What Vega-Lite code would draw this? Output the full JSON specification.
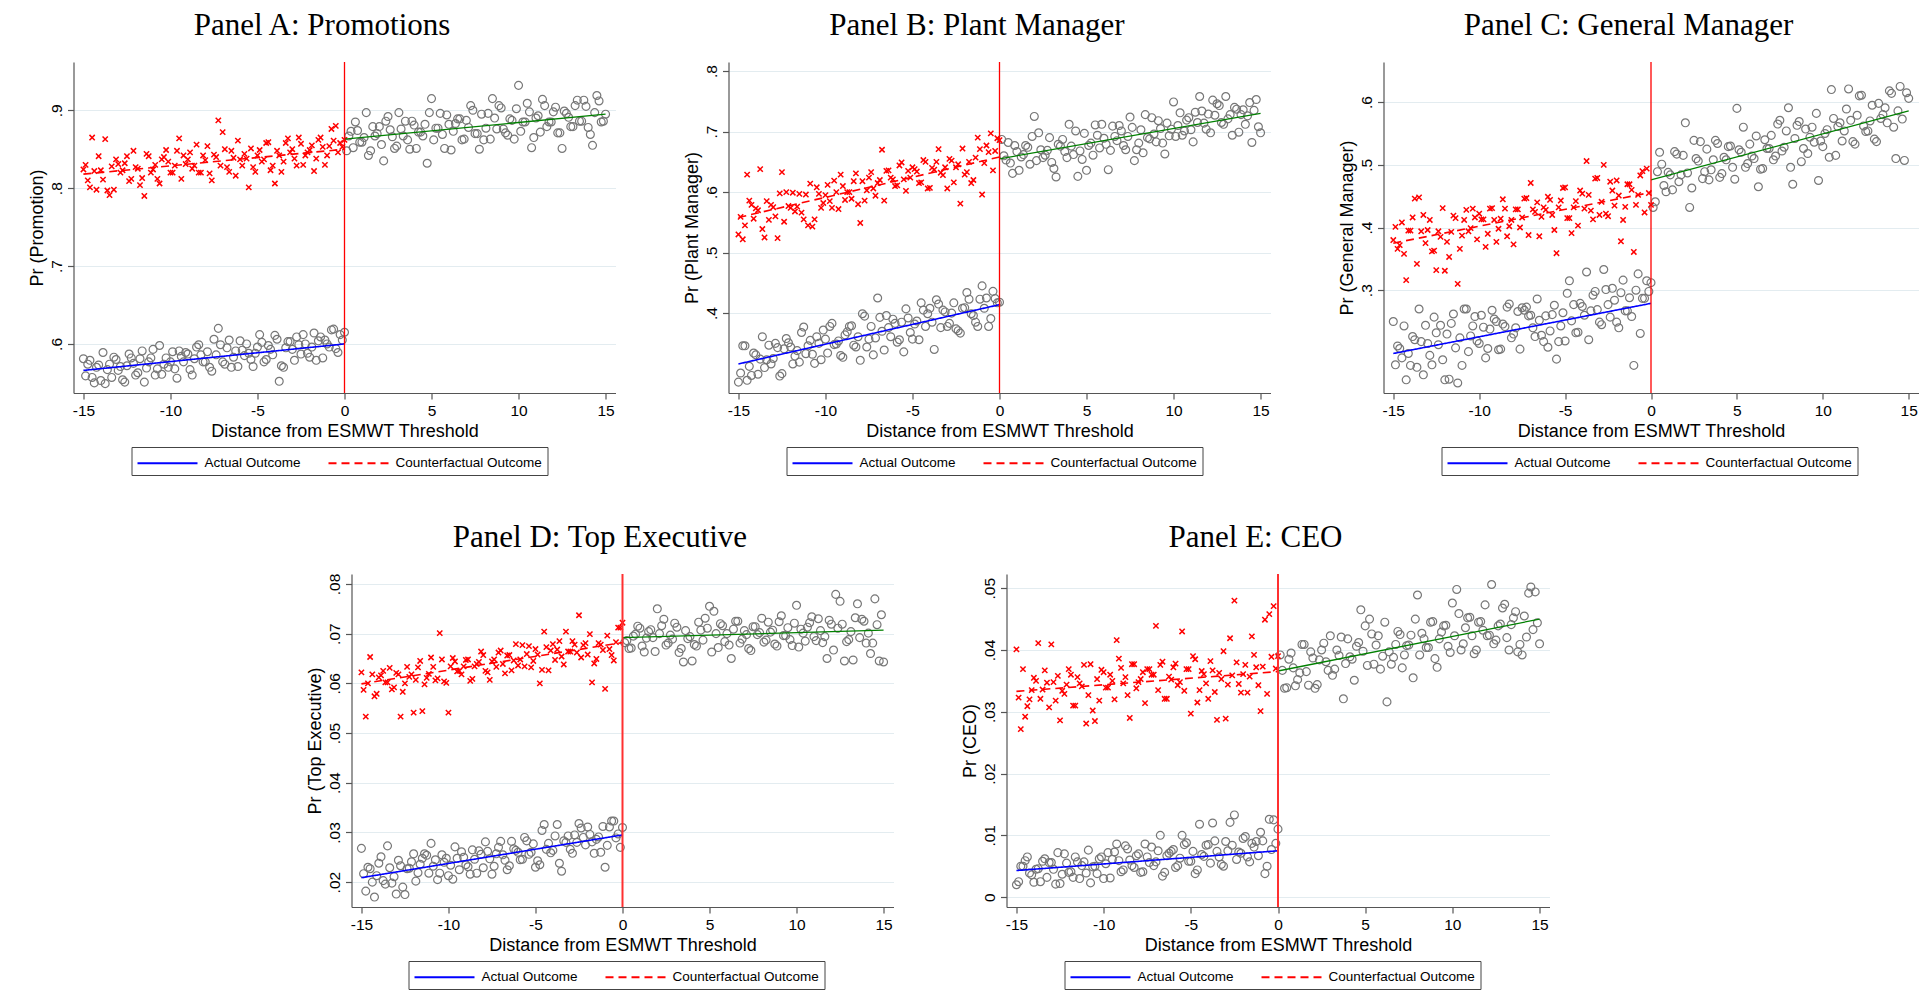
{
"$schema": "https://vega.github.io/schema/vega-lite/v6.json",
"padding": {"left": 27.5, "top": 10, "right": 0, "bottom": 0},
"background": "white",
"datasets": {
"A": [{"x":-15,"a":0.581,"c":0.824},{"x":-14.75,"a":0.574,"c":0.81},{"x":-14.5,"a":0.557,"c":0.865},{"x":-14.25,"a":0.57,"c":0.798},{"x":-14,"a":0.553,"c":0.823},{"x":-13.75,"a":0.549,"c":0.863},{"x":-13.5,"a":0.574,"c":0.791},{"x":-13.25,"a":0.583,"c":0.798},{"x":-13,"a":0.566,"c":0.831},{"x":-12.75,"a":0.554,"c":0.823},{"x":-12.5,"a":0.572,"c":0.841},{"x":-12.25,"a":0.582,"c":0.812},{"x":-12,"a":0.56,"c":0.827},{"x":-11.75,"a":0.581,"c":0.804},{"x":-11.5,"a":0.551,"c":0.79},{"x":-11.25,"a":0.577,"c":0.841},{"x":-11,"a":0.593,"c":0.824},{"x":-10.75,"a":0.568,"c":0.812},{"x":-10.5,"a":0.561,"c":0.837},{"x":-10.25,"a":0.582,"c":0.849},{"x":-10,"a":0.577,"c":0.82},{"x":-9.75,"a":0.568,"c":0.829},{"x":-9.5,"a":0.591,"c":0.864},{"x":-9.25,"a":0.577,"c":0.842},{"x":-9,"a":0.587,"c":0.837},{"x":-8.75,"a":0.56,"c":0.825},{"x":-8.5,"a":0.596,"c":0.856},{"x":-8.25,"a":0.586,"c":0.82},{"x":-8,"a":0.577,"c":0.836},{"x":-7.75,"a":0.57,"c":0.819},{"x":-7.5,"a":0.606,"c":0.843},{"x":-7.25,"a":0.62,"c":0.887},{"x":-7,"a":0.577,"c":0.872},{"x":-6.75,"a":0.595,"c":0.827},{"x":-6.5,"a":0.57,"c":0.848},{"x":-6.25,"a":0.591,"c":0.816},{"x":-6,"a":0.604,"c":0.837},{"x":-5.75,"a":0.585,"c":0.844},{"x":-5.5,"a":0.588,"c":0.801},{"x":-5.25,"a":0.571,"c":0.827},{"x":-5,"a":0.596,"c":0.842},{"x":-4.75,"a":0.602,"c":0.834},{"x":-4.5,"a":0.58,"c":0.858},{"x":-4.25,"a":0.593,"c":0.823},{"x":-4,"a":0.611,"c":0.806},{"x":-3.75,"a":0.552,"c":0.842},{"x":-3.5,"a":0.57,"c":0.834},{"x":-3.25,"a":0.603,"c":0.864},{"x":-3,"a":0.593,"c":0.85},{"x":-2.75,"a":0.609,"c":0.829},{"x":-2.5,"a":0.587,"c":0.857},{"x":-2.25,"a":0.6,"c":0.842},{"x":-2,"a":0.583,"c":0.849},{"x":-1.75,"a":0.614,"c":0.822},{"x":-1.5,"a":0.604,"c":0.862},{"x":-1.25,"a":0.582,"c":0.853},{"x":-1,"a":0.6,"c":0.842},{"x":-0.75,"a":0.618,"c":0.876},{"x":-0.5,"a":0.594,"c":0.88},{"x":-0.25,"a":0.612,"c":0.858},{"x":0,"a":0.615,"c":0.862},
{"x":-14.875,"a":0.559,"c":0.83},{"x":-14.625,"a":0.579,"c":0.801},{"x":-14.375,"a":0.55,"c":0.822},{"x":-14.125,"a":0.573,"c":0.841},{"x":-13.875,"a":0.589,"c":0.811},{"x":-13.625,"a":0.567,"c":0.797},{"x":-13.375,"a":0.557,"c":0.828},{"x":-13.125,"a":0.58,"c":0.837},{"x":-12.875,"a":0.571,"c":0.82},{"x":-12.625,"a":0.551,"c":0.832},{"x":-12.375,"a":0.587,"c":0.809},{"x":-12.125,"a":0.575,"c":0.848},{"x":-11.875,"a":0.563,"c":0.825},{"x":-11.625,"a":0.591,"c":0.813},{"x":-11.375,"a":0.569,"c":0.844},{"x":-11.125,"a":0.582,"c":0.82},{"x":-10.875,"a":0.56,"c":0.83},{"x":-10.625,"a":0.598,"c":0.806},{"x":-10.375,"a":0.574,"c":0.84},{"x":-10.125,"a":0.57,"c":0.834},{"x":-9.875,"a":0.59,"c":0.82},{"x":-9.625,"a":0.556,"c":0.848},{"x":-9.375,"a":0.584,"c":0.812},{"x":-9.125,"a":0.589,"c":0.831},{"x":-8.875,"a":0.567,"c":0.846},{"x":-8.625,"a":0.581,"c":0.829},{"x":-8.375,"a":0.599,"c":0.82},{"x":-8.125,"a":0.577,"c":0.842},{"x":-7.875,"a":0.59,"c":0.854},{"x":-7.625,"a":0.565,"c":0.81},{"x":-7.375,"a":0.586,"c":0.84},{"x":-7.125,"a":0.599,"c":0.829},{"x":-6.875,"a":0.574,"c":0.85},{"x":-6.625,"a":0.605,"c":0.821},{"x":-6.375,"a":0.583,"c":0.839},{"x":-6.125,"a":0.571,"c":0.861},{"x":-5.875,"a":0.592,"c":0.829},{"x":-5.625,"a":0.6,"c":0.838},{"x":-5.375,"a":0.58,"c":0.851},{"x":-5.125,"a":0.588,"c":0.821},{"x":-4.875,"a":0.612,"c":0.849},{"x":-4.625,"a":0.577,"c":0.837},{"x":-4.375,"a":0.598,"c":0.859},{"x":-4.125,"a":0.586,"c":0.829},{"x":-3.875,"a":0.606,"c":0.848},{"x":-3.625,"a":0.572,"c":0.821},{"x":-3.375,"a":0.595,"c":0.858},{"x":-3.125,"a":0.603,"c":0.846},{"x":-2.875,"a":0.579,"c":0.838},{"x":-2.625,"a":0.599,"c":0.865},{"x":-2.375,"a":0.612,"c":0.83},{"x":-2.125,"a":0.588,"c":0.846},{"x":-1.875,"a":0.596,"c":0.855},{"x":-1.625,"a":0.579,"c":0.838},{"x":-1.375,"a":0.609,"c":0.865},{"x":-1.125,"a":0.605,"c":0.83},{"x":-0.875,"a":0.596,"c":0.854},{"x":-0.625,"a":0.619,"c":0.861},{"x":-0.375,"a":0.589,"c":0.846},{"x":-0.125,"a":0.605,"c":0.853},
{"x":0.25,"a":0.867},{"x":0.5,"a":0.852},{"x":0.75,"a":0.874},{"x":1,"a":0.859},{"x":1.25,"a":0.897},{"x":1.5,"a":0.848},{"x":1.75,"a":0.867},{"x":2,"a":0.879},{"x":2.25,"a":0.835},{"x":2.5,"a":0.892},{"x":2.75,"a":0.866},{"x":3,"a":0.854},{"x":3.25,"a":0.876},{"x":3.5,"a":0.886},{"x":3.75,"a":0.85},{"x":4,"a":0.881},{"x":4.25,"a":0.872},{"x":4.5,"a":0.867},{"x":4.75,"a":0.832},{"x":5,"a":0.915},{"x":5.25,"a":0.877},{"x":5.5,"a":0.896},{"x":5.75,"a":0.851},{"x":6,"a":0.882},{"x":6.25,"a":0.873},{"x":6.5,"a":0.889},{"x":6.75,"a":0.862},{"x":7,"a":0.887},{"x":7.25,"a":0.906},{"x":7.5,"a":0.87},{"x":7.75,"a":0.85},{"x":8,"a":0.862},{"x":8.25,"a":0.896},{"x":8.5,"a":0.915},{"x":8.75,"a":0.876},{"x":9,"a":0.903},{"x":9.25,"a":0.871},{"x":9.5,"a":0.889},{"x":9.75,"a":0.863},{"x":10,"a":0.932},{"x":10.25,"a":0.885},{"x":10.5,"a":0.909},{"x":10.75,"a":0.852},{"x":11,"a":0.89},{"x":11.25,"a":0.872},{"x":11.5,"a":0.906},{"x":11.75,"a":0.885},{"x":12,"a":0.898},{"x":12.25,"a":0.871},{"x":12.5,"a":0.851},{"x":12.75,"a":0.896},{"x":13,"a":0.879},{"x":13.25,"a":0.906},{"x":13.5,"a":0.886},{"x":13.75,"a":0.913},{"x":14,"a":0.878},{"x":14.25,"a":0.855},{"x":14.5,"a":0.919},{"x":14.75,"a":0.885},{"x":15,"a":0.895},
{"x":0.125,"a":0.848},{"x":0.375,"a":0.873},{"x":0.625,"a":0.885},{"x":0.875,"a":0.859},{"x":1.125,"a":0.865},{"x":1.375,"a":0.842},{"x":1.625,"a":0.879},{"x":1.875,"a":0.87},{"x":2.125,"a":0.856},{"x":2.375,"a":0.886},{"x":2.625,"a":0.875},{"x":2.875,"a":0.851},{"x":3.125,"a":0.897},{"x":3.375,"a":0.867},{"x":3.625,"a":0.862},{"x":3.875,"a":0.886},{"x":4.125,"a":0.851},{"x":4.375,"a":0.872},{"x":4.625,"a":0.882},{"x":4.875,"a":0.897},{"x":5.125,"a":0.862},{"x":5.375,"a":0.877},{"x":5.625,"a":0.869},{"x":5.875,"a":0.894},{"x":6.125,"a":0.849},{"x":6.375,"a":0.883},{"x":6.625,"a":0.889},{"x":6.875,"a":0.863},{"x":7.125,"a":0.878},{"x":7.375,"a":0.9},{"x":7.625,"a":0.87},{"x":7.875,"a":0.895},{"x":8.125,"a":0.877},{"x":8.375,"a":0.863},{"x":8.625,"a":0.89},{"x":8.875,"a":0.906},{"x":9.125,"a":0.876},{"x":9.375,"a":0.868},{"x":9.625,"a":0.887},{"x":9.875,"a":0.902},{"x":10.125,"a":0.873},{"x":10.375,"a":0.885},{"x":10.625,"a":0.898},{"x":10.875,"a":0.865},{"x":11.125,"a":0.893},{"x":11.375,"a":0.914},{"x":11.625,"a":0.879},{"x":11.875,"a":0.885},{"x":12.125,"a":0.904},{"x":12.375,"a":0.871},{"x":12.625,"a":0.899},{"x":12.875,"a":0.891},{"x":13.125,"a":0.879},{"x":13.375,"a":0.913},{"x":13.625,"a":0.886},{"x":13.875,"a":0.905},{"x":14.125,"a":0.869},{"x":14.375,"a":0.897},{"x":14.625,"a":0.912},{"x":14.875,"a":0.886}],
"B": [{"x":-15,"a":0.286,"c":0.53},{"x":-14.75,"a":0.346,"c":0.522},{"x":-14.5,"a":0.289,"c":0.629},{"x":-14.25,"a":0.297,"c":0.579},{"x":-14,"a":0.331,"c":0.573},{"x":-13.75,"a":0.324,"c":0.638},{"x":-13.5,"a":0.31,"c":0.525},{"x":-13.25,"a":0.347,"c":0.554},{"x":-13,"a":0.325,"c":0.575},{"x":-12.75,"a":0.343,"c":0.524},{"x":-12.5,"a":0.3,"c":0.633},{"x":-12.25,"a":0.358,"c":0.6},{"x":-12,"a":0.344,"c":0.574},{"x":-11.75,"a":0.329,"c":0.568},{"x":-11.5,"a":0.319,"c":0.597},{"x":-11.25,"a":0.377,"c":0.555},{"x":-11,"a":0.346,"c":0.545},{"x":-10.75,"a":0.332,"c":0.543},{"x":-10.5,"a":0.361,"c":0.608},{"x":-10.25,"a":0.323,"c":0.574},{"x":-10,"a":0.357,"c":0.595},{"x":-9.75,"a":0.378,"c":0.585},{"x":-9.5,"a":0.348,"c":0.619},{"x":-9.25,"a":0.354,"c":0.572},{"x":-9,"a":0.327,"c":0.61},{"x":-8.75,"a":0.369,"c":0.6},{"x":-8.5,"a":0.379,"c":0.589},{"x":-8.25,"a":0.344,"c":0.631},{"x":-8,"a":0.322,"c":0.549},{"x":-7.75,"a":0.395,"c":0.586},{"x":-7.5,"a":0.357,"c":0.624},{"x":-7.25,"a":0.331,"c":0.606},{"x":-7,"a":0.425,"c":0.615},{"x":-6.75,"a":0.37,"c":0.67},{"x":-6.5,"a":0.396,"c":0.635},{"x":-6.25,"a":0.361,"c":0.624},{"x":-6,"a":0.383,"c":0.61},{"x":-5.75,"a":0.356,"c":0.644},{"x":-5.5,"a":0.336,"c":0.621},{"x":-5.25,"a":0.392,"c":0.635},{"x":-5,"a":0.357,"c":0.641},{"x":-4.75,"a":0.387,"c":0.634},{"x":-4.5,"a":0.417,"c":0.616},{"x":-4.25,"a":0.378,"c":0.65},{"x":-4,"a":0.408,"c":0.607},{"x":-3.75,"a":0.34,"c":0.637},{"x":-3.5,"a":0.415,"c":0.671},{"x":-3.25,"a":0.405,"c":0.628},{"x":-3,"a":0.378,"c":0.606},{"x":-2.75,"a":0.4,"c":0.652},{"x":-2.5,"a":0.374,"c":0.641},{"x":-2.25,"a":0.367,"c":0.581},{"x":-2,"a":0.409,"c":0.629},{"x":-1.75,"a":0.423,"c":0.65},{"x":-1.5,"a":0.396,"c":0.62},{"x":-1.25,"a":0.378,"c":0.69},{"x":-1,"a":0.445,"c":0.596},{"x":-0.75,"a":0.425,"c":0.677},{"x":-0.5,"a":0.391,"c":0.697},{"x":-0.25,"a":0.424,"c":0.668},{"x":0,"a":0.418,"c":0.686},
{"x":-14.875,"a":0.301,"c":0.559},{"x":-14.625,"a":0.346,"c":0.545},{"x":-14.375,"a":0.312,"c":0.586},{"x":-14.125,"a":0.334,"c":0.556},{"x":-13.875,"a":0.299,"c":0.57},{"x":-13.625,"a":0.361,"c":0.539},{"x":-13.375,"a":0.323,"c":0.585},{"x":-13.125,"a":0.316,"c":0.579},{"x":-12.875,"a":0.35,"c":0.56},{"x":-12.625,"a":0.296,"c":0.598},{"x":-12.375,"a":0.341,"c":0.551},{"x":-12.125,"a":0.351,"c":0.577},{"x":-11.875,"a":0.316,"c":0.599},{"x":-11.625,"a":0.338,"c":0.576},{"x":-11.375,"a":0.368,"c":0.566},{"x":-11.125,"a":0.333,"c":0.596},{"x":-10.875,"a":0.355,"c":0.614},{"x":-10.625,"a":0.317,"c":0.555},{"x":-10.375,"a":0.35,"c":0.597},{"x":-10.125,"a":0.372,"c":0.582},{"x":-9.875,"a":0.334,"c":0.612},{"x":-9.625,"a":0.383,"c":0.574},{"x":-9.375,"a":0.349,"c":0.6},{"x":-9.125,"a":0.33,"c":0.629},{"x":-8.875,"a":0.364,"c":0.587},{"x":-8.625,"a":0.378,"c":0.6},{"x":-8.375,"a":0.347,"c":0.618},{"x":-8.125,"a":0.361,"c":0.58},{"x":-7.875,"a":0.399,"c":0.618},{"x":-7.625,"a":0.344,"c":0.603},{"x":-7.375,"a":0.378,"c":0.633},{"x":-7.125,"a":0.359,"c":0.594},{"x":-6.875,"a":0.393,"c":0.62},{"x":-6.625,"a":0.339,"c":0.586},{"x":-6.375,"a":0.376,"c":0.636},{"x":-6.125,"a":0.39,"c":0.621},{"x":-5.875,"a":0.352,"c":0.611},{"x":-5.625,"a":0.385,"c":0.649},{"x":-5.375,"a":0.407,"c":0.602},{"x":-5.125,"a":0.368,"c":0.624},{"x":-4.875,"a":0.382,"c":0.638},{"x":-4.625,"a":0.356,"c":0.615},{"x":-4.375,"a":0.405,"c":0.653},{"x":-4.125,"a":0.399,"c":0.606},{"x":-3.875,"a":0.385,"c":0.64},{"x":-3.625,"a":0.422,"c":0.65},{"x":-3.375,"a":0.376,"c":0.632},{"x":-3.125,"a":0.402,"c":0.641},{"x":-2.875,"a":0.383,"c":0.655},{"x":-2.625,"a":0.417,"c":0.616},{"x":-2.375,"a":0.371,"c":0.646},{"x":-2.125,"a":0.408,"c":0.672},{"x":-1.875,"a":0.434,"c":0.633},{"x":-1.625,"a":0.399,"c":0.615},{"x":-1.375,"a":0.385,"c":0.657},{"x":-1.125,"a":0.423,"c":0.671},{"x":-0.875,"a":0.408,"c":0.648},{"x":-0.625,"a":0.378,"c":0.666},{"x":-0.375,"a":0.436,"c":0.636},{"x":-0.125,"a":0.417,"c":0.689},
{"x":0.25,"a":0.66},{"x":0.5,"a":0.682},{"x":0.75,"a":0.631},{"x":1,"a":0.667},{"x":1.25,"a":0.658},{"x":1.5,"a":0.677},{"x":1.75,"a":0.646},{"x":2,"a":0.725},{"x":2.25,"a":0.698},{"x":2.5,"a":0.657},{"x":2.75,"a":0.669},{"x":3,"a":0.649},{"x":3.25,"a":0.625},{"x":3.5,"a":0.676},{"x":3.75,"a":0.667},{"x":4,"a":0.712},{"x":4.25,"a":0.662},{"x":4.5,"a":0.626},{"x":4.75,"a":0.654},{"x":5,"a":0.636},{"x":5.25,"a":0.681},{"x":5.5,"a":0.711},{"x":5.75,"a":0.673},{"x":6,"a":0.689},{"x":6.25,"a":0.637},{"x":6.5,"a":0.709},{"x":6.75,"a":0.685},{"x":7,"a":0.701},{"x":7.25,"a":0.67},{"x":7.5,"a":0.724},{"x":7.75,"a":0.652},{"x":8,"a":0.681},{"x":8.25,"a":0.665},{"x":8.5,"a":0.69},{"x":8.75,"a":0.723},{"x":9,"a":0.683},{"x":9.25,"a":0.705},{"x":9.5,"a":0.663},{"x":9.75,"a":0.693},{"x":10,"a":0.749},{"x":10.25,"a":0.71},{"x":10.5,"a":0.694},{"x":10.75,"a":0.719},{"x":11,"a":0.703},{"x":11.25,"a":0.732},{"x":11.5,"a":0.758},{"x":11.75,"a":0.714},{"x":12,"a":0.729},{"x":12.25,"a":0.752},{"x":12.5,"a":0.746},{"x":12.75,"a":0.715},{"x":13,"a":0.758},{"x":13.25,"a":0.728},{"x":13.5,"a":0.74},{"x":13.75,"a":0.699},{"x":14,"a":0.736},{"x":14.25,"a":0.726},{"x":14.5,"a":0.682},{"x":14.75,"a":0.753},{"x":15,"a":0.698},
{"x":0.125,"a":0.687},{"x":0.375,"a":0.653},{"x":0.625,"a":0.648},{"x":0.875,"a":0.677},{"x":1.125,"a":0.636},{"x":1.375,"a":0.662},{"x":1.625,"a":0.674},{"x":1.875,"a":0.692},{"x":2.125,"a":0.652},{"x":2.375,"a":0.67},{"x":2.625,"a":0.661},{"x":2.875,"a":0.69},{"x":3.125,"a":0.639},{"x":3.375,"a":0.679},{"x":3.625,"a":0.687},{"x":3.875,"a":0.657},{"x":4.125,"a":0.676},{"x":4.375,"a":0.701},{"x":4.625,"a":0.668},{"x":4.875,"a":0.697},{"x":5.125,"a":0.677},{"x":5.375,"a":0.661},{"x":5.625,"a":0.694},{"x":5.875,"a":0.712},{"x":6.125,"a":0.679},{"x":6.375,"a":0.669},{"x":6.625,"a":0.692},{"x":6.875,"a":0.71},{"x":7.125,"a":0.677},{"x":7.375,"a":0.692},{"x":7.625,"a":0.707},{"x":7.875,"a":0.67},{"x":8.125,"a":0.703},{"x":8.375,"a":0.728},{"x":8.625,"a":0.688},{"x":8.875,"a":0.696},{"x":9.125,"a":0.718},{"x":9.375,"a":0.681},{"x":9.625,"a":0.714},{"x":9.875,"a":0.704},{"x":10.125,"a":0.692},{"x":10.375,"a":0.731},{"x":10.625,"a":0.701},{"x":10.875,"a":0.723},{"x":11.125,"a":0.683},{"x":11.375,"a":0.715},{"x":11.625,"a":0.734},{"x":11.875,"a":0.704},{"x":12.125,"a":0.698},{"x":12.375,"a":0.727},{"x":12.625,"a":0.743},{"x":12.875,"a":0.712},{"x":13.125,"a":0.721},{"x":13.375,"a":0.694},{"x":13.625,"a":0.737},{"x":13.875,"a":0.728},{"x":14.125,"a":0.712},{"x":14.375,"a":0.748},{"x":14.625,"a":0.735},{"x":14.875,"a":0.708}],
"C": [{"x":-15,"a":0.25,"c":0.38},{"x":-14.75,"a":0.211,"c":0.366},{"x":-14.5,"a":0.192,"c":0.408},{"x":-14.25,"a":0.157,"c":0.316},{"x":-14,"a":0.18,"c":0.395},{"x":-13.75,"a":0.221,"c":0.446},{"x":-13.5,"a":0.27,"c":0.448},{"x":-13.25,"a":0.165,"c":0.42},{"x":-13,"a":0.215,"c":0.396},{"x":-12.75,"a":0.181,"c":0.362},{"x":-12.5,"a":0.232,"c":0.332},{"x":-12.25,"a":0.244,"c":0.385},{"x":-12,"a":0.157,"c":0.331},{"x":-11.75,"a":0.158,"c":0.353},{"x":-11.5,"a":0.262,"c":0.419},{"x":-11.25,"a":0.152,"c":0.31},{"x":-11,"a":0.18,"c":0.387},{"x":-10.75,"a":0.27,"c":0.428},{"x":-10.5,"a":0.227,"c":0.399},{"x":-10.25,"a":0.258,"c":0.416},{"x":-10,"a":0.215,"c":0.422},{"x":-9.75,"a":0.241,"c":0.413},{"x":-9.5,"a":0.207,"c":0.39},{"x":-9.25,"a":0.268,"c":0.431},{"x":-9,"a":0.25,"c":0.377},{"x":-8.75,"a":0.206,"c":0.414},{"x":-8.5,"a":0.242,"c":0.43},{"x":-8.25,"a":0.278,"c":0.402},{"x":-8,"a":0.23,"c":0.373},{"x":-7.75,"a":0.266,"c":0.429},{"x":-7.5,"a":0.272,"c":0.416},{"x":-7.25,"a":0.273,"c":0.447},{"x":-7,"a":0.26,"c":0.471},{"x":-6.75,"a":0.226,"c":0.425},{"x":-6.5,"a":0.252,"c":0.386},{"x":-6.25,"a":0.218,"c":0.432},{"x":-6,"a":0.209,"c":0.449},{"x":-5.75,"a":0.261,"c":0.42},{"x":-5.5,"a":0.19,"c":0.359},{"x":-5.25,"a":0.243,"c":0.443},{"x":-5,"a":0.219,"c":0.464},{"x":-4.75,"a":0.315,"c":0.415},{"x":-4.5,"a":0.277,"c":0.432},{"x":-4.25,"a":0.233,"c":0.403},{"x":-4,"a":0.274,"c":0.454},{"x":-3.75,"a":0.329,"c":0.506},{"x":-3.5,"a":0.267,"c":0.427},{"x":-3.25,"a":0.298,"c":0.478},{"x":-3,"a":0.249,"c":0.42},{"x":-2.75,"a":0.333,"c":0.5},{"x":-2.5,"a":0.277,"c":0.418},{"x":-2.25,"a":0.303,"c":0.459},{"x":-2,"a":0.249,"c":0.475},{"x":-1.75,"a":0.296,"c":0.378},{"x":-1.5,"a":0.267,"c":0.433},{"x":-1.25,"a":0.288,"c":0.469},{"x":-1,"a":0.18,"c":0.361},{"x":-0.75,"a":0.326,"c":0.452},{"x":-0.5,"a":0.287,"c":0.49},{"x":-0.25,"a":0.315,"c":0.494},{"x":0,"a":0.312,"c":0.436},
{"x":-14.875,"a":0.181,"c":0.401},{"x":-14.625,"a":0.207,"c":0.372},{"x":-14.375,"a":0.243,"c":0.358},{"x":-14.125,"a":0.199,"c":0.395},{"x":-13.875,"a":0.226,"c":0.416},{"x":-13.625,"a":0.177,"c":0.342},{"x":-13.375,"a":0.218,"c":0.394},{"x":-13.125,"a":0.244,"c":0.375},{"x":-12.875,"a":0.196,"c":0.412},{"x":-12.625,"a":0.257,"c":0.363},{"x":-12.375,"a":0.213,"c":0.394},{"x":-12.125,"a":0.189,"c":0.431},{"x":-11.875,"a":0.23,"c":0.377},{"x":-11.625,"a":0.247,"c":0.393},{"x":-11.375,"a":0.208,"c":0.415},{"x":-11.125,"a":0.224,"c":0.366},{"x":-10.875,"a":0.27,"c":0.412},{"x":-10.625,"a":0.202,"c":0.394},{"x":-10.375,"a":0.243,"c":0.43},{"x":-10.125,"a":0.219,"c":0.381},{"x":-9.875,"a":0.26,"c":0.413},{"x":-9.625,"a":0.192,"c":0.369},{"x":-9.375,"a":0.238,"c":0.43},{"x":-9.125,"a":0.254,"c":0.412},{"x":-8.875,"a":0.205,"c":0.398},{"x":-8.625,"a":0.246,"c":0.445},{"x":-8.375,"a":0.273,"c":0.386},{"x":-8.125,"a":0.224,"c":0.412},{"x":-7.875,"a":0.24,"c":0.429},{"x":-7.625,"a":0.206,"c":0.4},{"x":-7.375,"a":0.268,"c":0.446},{"x":-7.125,"a":0.259,"c":0.388},{"x":-6.875,"a":0.24,"c":0.429},{"x":-6.625,"a":0.286,"c":0.44},{"x":-6.375,"a":0.228,"c":0.417},{"x":-6.125,"a":0.259,"c":0.428},{"x":-5.875,"a":0.235,"c":0.444},{"x":-5.625,"a":0.276,"c":0.396},{"x":-5.375,"a":0.218,"c":0.432},{"x":-5.125,"a":0.264,"c":0.463},{"x":-4.875,"a":0.295,"c":0.415},{"x":-4.625,"a":0.251,"c":0.391},{"x":-4.375,"a":0.232,"c":0.442},{"x":-4.125,"a":0.279,"c":0.459},{"x":-3.875,"a":0.26,"c":0.43},{"x":-3.625,"a":0.221,"c":0.452},{"x":-3.375,"a":0.292,"c":0.413},{"x":-3.125,"a":0.269,"c":0.479},{"x":-2.875,"a":0.245,"c":0.441},{"x":-2.625,"a":0.301,"c":0.422},{"x":-2.375,"a":0.257,"c":0.473},{"x":-2.125,"a":0.284,"c":0.435},{"x":-1.875,"a":0.24,"c":0.451},{"x":-1.625,"a":0.316,"c":0.412},{"x":-1.375,"a":0.267,"c":0.469},{"x":-1.125,"a":0.258,"c":0.46},{"x":-0.875,"a":0.3,"c":0.436},{"x":-0.625,"a":0.231,"c":0.483},{"x":-0.375,"a":0.287,"c":0.424},{"x":-0.125,"a":0.298,"c":0.455},
{"x":0.25,"a":0.441},{"x":0.5,"a":0.52},{"x":0.75,"a":0.467},{"x":1,"a":0.488},{"x":1.25,"a":0.46},{"x":1.5,"a":0.517},{"x":1.75,"a":0.484},{"x":2,"a":0.567},{"x":2.25,"a":0.432},{"x":2.5,"a":0.539},{"x":2.75,"a":0.506},{"x":3,"a":0.478},{"x":3.25,"a":0.525},{"x":3.5,"a":0.492},{"x":3.75,"a":0.539},{"x":4,"a":0.48},{"x":4.25,"a":0.512},{"x":4.5,"a":0.529},{"x":4.75,"a":0.496},{"x":5,"a":0.59},{"x":5.25,"a":0.52},{"x":5.5,"a":0.496},{"x":5.75,"a":0.533},{"x":6,"a":0.51},{"x":6.25,"a":0.465},{"x":6.5,"a":0.494},{"x":6.75,"a":0.526},{"x":7,"a":0.547},{"x":7.25,"a":0.514},{"x":7.5,"a":0.571},{"x":7.75,"a":0.528},{"x":8,"a":0.591},{"x":8.25,"a":0.469},{"x":8.5,"a":0.563},{"x":8.75,"a":0.505},{"x":9,"a":0.557},{"x":9.25,"a":0.544},{"x":9.5,"a":0.536},{"x":9.75,"a":0.475},{"x":10,"a":0.529},{"x":10.25,"a":0.556},{"x":10.5,"a":0.62},{"x":10.75,"a":0.515},{"x":11,"a":0.567},{"x":11.25,"a":0.554},{"x":11.5,"a":0.621},{"x":11.75,"a":0.537},{"x":12,"a":0.579},{"x":12.25,"a":0.611},{"x":12.5,"a":0.553},{"x":12.75,"a":0.57},{"x":13,"a":0.541},{"x":13.25,"a":0.598},{"x":13.5,"a":0.58},{"x":13.75,"a":0.567},{"x":14,"a":0.614},{"x":14.25,"a":0.51},{"x":14.5,"a":0.625},{"x":14.75,"a":0.507},{"x":15,"a":0.606},
{"x":0.125,"a":0.432},{"x":0.375,"a":0.489},{"x":0.625,"a":0.501},{"x":0.875,"a":0.457},{"x":1.125,"a":0.484},{"x":1.375,"a":0.521},{"x":1.625,"a":0.473},{"x":1.875,"a":0.515},{"x":2.125,"a":0.487},{"x":2.375,"a":0.463},{"x":2.625,"a":0.51},{"x":2.875,"a":0.537},{"x":3.125,"a":0.489},{"x":3.375,"a":0.476},{"x":3.625,"a":0.508},{"x":3.875,"a":0.534},{"x":4.125,"a":0.486},{"x":4.375,"a":0.508},{"x":4.625,"a":0.53},{"x":4.875,"a":0.477},{"x":5.125,"a":0.524},{"x":5.375,"a":0.56},{"x":5.625,"a":0.502},{"x":5.875,"a":0.514},{"x":6.125,"a":0.546},{"x":6.375,"a":0.493},{"x":6.625,"a":0.54},{"x":6.875,"a":0.526},{"x":7.125,"a":0.508},{"x":7.375,"a":0.565},{"x":7.625,"a":0.522},{"x":7.875,"a":0.554},{"x":8.125,"a":0.496},{"x":8.375,"a":0.542},{"x":8.625,"a":0.569},{"x":8.875,"a":0.526},{"x":9.125,"a":0.518},{"x":9.375,"a":0.56},{"x":9.625,"a":0.582},{"x":9.875,"a":0.538},{"x":10.125,"a":0.55},{"x":10.375,"a":0.512},{"x":10.625,"a":0.574},{"x":10.875,"a":0.561},{"x":11.125,"a":0.538},{"x":11.375,"a":0.589},{"x":11.625,"a":0.571},{"x":11.875,"a":0.533},{"x":12.125,"a":0.61},{"x":12.375,"a":0.562},{"x":12.625,"a":0.554},{"x":12.875,"a":0.595},{"x":13.125,"a":0.537},{"x":13.375,"a":0.574},{"x":13.625,"a":0.591},{"x":13.875,"a":0.618},{"x":14.125,"a":0.56},{"x":14.375,"a":0.586},{"x":14.625,"a":0.573},{"x":14.875,"a":0.615}],
"D": [{"x":-15,"a":0.0268,"c":0.0622},{"x":-14.75,"a":0.0182,"c":0.0533},{"x":-14.5,"a":0.0227,"c":0.0653},{"x":-14.25,"a":0.017,"c":0.0574},{"x":-14,"a":0.0238,"c":0.0612},{"x":-13.75,"a":0.0203,"c":0.0625},{"x":-13.5,"a":0.0273,"c":0.0602},{"x":-13.25,"a":0.0198,"c":0.0588},{"x":-13,"a":0.0176,"c":0.0621},{"x":-12.75,"a":0.0233,"c":0.0533},{"x":-12.5,"a":0.0175,"c":0.06},{"x":-12.25,"a":0.0228,"c":0.0613},{"x":-12,"a":0.0257,"c":0.0541},{"x":-11.75,"a":0.0219,"c":0.0632},{"x":-11.5,"a":0.0248,"c":0.0544},{"x":-11.25,"a":0.0254,"c":0.0611},{"x":-11,"a":0.0278,"c":0.0652},{"x":-10.75,"a":0.0245,"c":0.0606},{"x":-10.5,"a":0.0218,"c":0.0701},{"x":-10.25,"a":0.024,"c":0.0604},{"x":-10,"a":0.0213,"c":0.0541},{"x":-9.75,"a":0.0206,"c":0.0651},{"x":-9.5,"a":0.0248,"c":0.0624},{"x":-9.25,"a":0.0261,"c":0.0618},{"x":-9,"a":0.0235,"c":0.0647},{"x":-8.75,"a":0.0216,"c":0.0605},{"x":-8.5,"a":0.0246,"c":0.0634},{"x":-8.25,"a":0.0263,"c":0.0643},{"x":-8,"a":0.0229,"c":0.0657},{"x":-7.75,"a":0.0262,"c":0.0622},{"x":-7.5,"a":0.0216,"c":0.0644},{"x":-7.25,"a":0.0257,"c":0.0633},{"x":-7,"a":0.0282,"c":0.0666},{"x":-6.75,"a":0.0244,"c":0.062},{"x":-6.5,"a":0.0233,"c":0.0657},{"x":-6.25,"a":0.0267,"c":0.0646},{"x":-6,"a":0.026,"c":0.0636},{"x":-5.75,"a":0.0246,"c":0.0677},{"x":-5.5,"a":0.0283,"c":0.0659},{"x":-5.25,"a":0.026,"c":0.0632},{"x":-5,"a":0.023,"c":0.0669},{"x":-4.75,"a":0.0235,"c":0.06},{"x":-4.5,"a":0.0316,"c":0.0704},{"x":-4.25,"a":0.0278,"c":0.0626},{"x":-4,"a":0.0264,"c":0.0679},{"x":-3.75,"a":0.0316,"c":0.0668},{"x":-3.5,"a":0.0222,"c":0.0654},{"x":-3.25,"a":0.028,"c":0.0704},{"x":-3,"a":0.0266,"c":0.0664},{"x":-2.75,"a":0.0295,"c":0.0678},{"x":-2.5,"a":0.0318,"c":0.0737},{"x":-2.25,"a":0.029,"c":0.0677},{"x":-2,"a":0.0311,"c":0.0658},{"x":-1.75,"a":0.0281,"c":0.0602},{"x":-1.5,"a":0.0286,"c":0.0649},{"x":-1.25,"a":0.026,"c":0.0678},{"x":-1,"a":0.023,"c":0.0589},{"x":-0.75,"a":0.0311,"c":0.0669},{"x":-0.5,"a":0.0323,"c":0.0646},{"x":-0.25,"a":0.0297,"c":0.0712},{"x":0,"a":0.031,"c":0.0722},
{"x":-14.875,"a":0.0217,"c":0.0587},{"x":-14.625,"a":0.023,"c":0.06},{"x":-14.375,"a":0.02,"c":0.0618},{"x":-14.125,"a":0.0213,"c":0.0579},{"x":-13.875,"a":0.0251,"c":0.0616},{"x":-13.625,"a":0.0196,"c":0.0602},{"x":-13.375,"a":0.0229,"c":0.0631},{"x":-13.125,"a":0.0211,"c":0.0592},{"x":-12.875,"a":0.0244,"c":0.0618},{"x":-12.625,"a":0.019,"c":0.0583},{"x":-12.375,"a":0.0227,"c":0.0633},{"x":-12.125,"a":0.0241,"c":0.0618},{"x":-11.875,"a":0.0202,"c":0.0607},{"x":-11.625,"a":0.0236,"c":0.0645},{"x":-11.375,"a":0.0257,"c":0.0598},{"x":-11.125,"a":0.0218,"c":0.0619},{"x":-10.875,"a":0.0232,"c":0.0633},{"x":-10.625,"a":0.0205,"c":0.061},{"x":-10.375,"a":0.0255,"c":0.0648},{"x":-10.125,"a":0.0248,"c":0.0601},{"x":-9.875,"a":0.0234,"c":0.0634},{"x":-9.625,"a":0.0271,"c":0.0644},{"x":-9.375,"a":0.0225,"c":0.0625},{"x":-9.125,"a":0.025,"c":0.0634},{"x":-8.875,"a":0.0231,"c":0.0648},{"x":-8.625,"a":0.0265,"c":0.0609},{"x":-8.375,"a":0.0218,"c":0.0639},{"x":-8.125,"a":0.0256,"c":0.0664},{"x":-7.875,"a":0.0281,"c":0.0625},{"x":-7.625,"a":0.0247,"c":0.0607},{"x":-7.375,"a":0.0232,"c":0.0648},{"x":-7.125,"a":0.027,"c":0.0662},{"x":-6.875,"a":0.0255,"c":0.0639},{"x":-6.625,"a":0.0225,"c":0.0656},{"x":-6.375,"a":0.0282,"c":0.0626},{"x":-6.125,"a":0.0264,"c":0.0679},{"x":-5.875,"a":0.0245,"c":0.0648},{"x":-5.625,"a":0.029,"c":0.0634},{"x":-5.375,"a":0.0256,"c":0.0675},{"x":-5.125,"a":0.0277,"c":0.0645},{"x":-4.875,"a":0.0243,"c":0.0658},{"x":-4.625,"a":0.0304,"c":0.0627},{"x":-4.375,"a":0.0266,"c":0.0673},{"x":-4.125,"a":0.0259,"c":0.0666},{"x":-3.875,"a":0.0293,"c":0.0647},{"x":-3.625,"a":0.0238,"c":0.0685},{"x":-3.375,"a":0.0283,"c":0.0638},{"x":-3.125,"a":0.0293,"c":0.0664},{"x":-2.875,"a":0.0258,"c":0.0685},{"x":-2.625,"a":0.028,"c":0.0662},{"x":-2.375,"a":0.0309,"c":0.0652},{"x":-2.125,"a":0.0275,"c":0.0681},{"x":-1.875,"a":0.0296,"c":0.0699},{"x":-1.625,"a":0.0258,"c":0.064},{"x":-1.375,"a":0.0291,"c":0.0681},{"x":-1.125,"a":0.0312,"c":0.0667},{"x":-0.875,"a":0.0274,"c":0.0696},{"x":-0.625,"a":0.0323,"c":0.0657},{"x":-0.375,"a":0.0289,"c":0.0683},{"x":-0.125,"a":0.027,"c":0.0712},
{"x":0.25,"a":0.0686},{"x":0.5,"a":0.0671},{"x":0.75,"a":0.0699},{"x":1,"a":0.0711},{"x":1.25,"a":0.0663},{"x":1.5,"a":0.0704},{"x":1.75,"a":0.0692},{"x":2,"a":0.075},{"x":2.25,"a":0.0716},{"x":2.5,"a":0.0677},{"x":2.75,"a":0.0697},{"x":3,"a":0.0721},{"x":3.25,"a":0.0662},{"x":3.5,"a":0.0643},{"x":3.75,"a":0.069},{"x":4,"a":0.0645},{"x":4.25,"a":0.0675},{"x":4.5,"a":0.0707},{"x":4.75,"a":0.0731},{"x":5,"a":0.0755},{"x":5.25,"a":0.0745},{"x":5.5,"a":0.0672},{"x":5.75,"a":0.0716},{"x":6,"a":0.07},{"x":6.25,"a":0.065},{"x":6.5,"a":0.0725},{"x":6.75,"a":0.0681},{"x":7,"a":0.0706},{"x":7.25,"a":0.067},{"x":7.5,"a":0.0714},{"x":7.75,"a":0.0698},{"x":8,"a":0.0731},{"x":8.25,"a":0.0687},{"x":8.5,"a":0.0703},{"x":8.75,"a":0.0679},{"x":9,"a":0.0724},{"x":9.25,"a":0.0696},{"x":9.5,"a":0.0712},{"x":9.75,"a":0.0676},{"x":10,"a":0.0757},{"x":10.25,"a":0.0709},{"x":10.5,"a":0.0685},{"x":10.75,"a":0.0722},{"x":11,"a":0.0694},{"x":11.25,"a":0.073},{"x":11.5,"a":0.0682},{"x":11.75,"a":0.065},{"x":12,"a":0.0719},{"x":12.25,"a":0.0779},{"x":12.5,"a":0.0765},{"x":12.75,"a":0.0645},{"x":13,"a":0.0688},{"x":13.25,"a":0.0647},{"x":13.5,"a":0.076},{"x":13.75,"a":0.0729},{"x":14,"a":0.0681},{"x":14.25,"a":0.066},{"x":14.5,"a":0.077},{"x":14.75,"a":0.0645},{"x":15,"a":0.0643},
{"x":0.125,"a":0.0682},{"x":0.375,"a":0.067},{"x":0.625,"a":0.0695},{"x":0.875,"a":0.0715},{"x":1.125,"a":0.0675},{"x":1.375,"a":0.0691},{"x":1.625,"a":0.0708},{"x":1.875,"a":0.0664},{"x":2.125,"a":0.07},{"x":2.375,"a":0.0729},{"x":2.625,"a":0.0681},{"x":2.875,"a":0.0689},{"x":3.125,"a":0.0713},{"x":3.375,"a":0.067},{"x":3.625,"a":0.0706},{"x":3.875,"a":0.0694},{"x":4.125,"a":0.0678},{"x":4.375,"a":0.0723},{"x":4.625,"a":0.0687},{"x":4.875,"a":0.0711},{"x":5.125,"a":0.0663},{"x":5.375,"a":0.07},{"x":5.625,"a":0.072},{"x":5.875,"a":0.0684},{"x":6.125,"a":0.0677},{"x":6.375,"a":0.0709},{"x":6.625,"a":0.0725},{"x":6.875,"a":0.0689},{"x":7.125,"a":0.0698},{"x":7.375,"a":0.0666},{"x":7.625,"a":0.0714},{"x":7.875,"a":0.0702},{"x":8.125,"a":0.0683},{"x":8.375,"a":0.0723},{"x":8.625,"a":0.0707},{"x":8.875,"a":0.0675},{"x":9.125,"a":0.0736},{"x":9.375,"a":0.0696},{"x":9.625,"a":0.0688},{"x":9.875,"a":0.0721},{"x":10.125,"a":0.0673},{"x":10.375,"a":0.0701},{"x":10.625,"a":0.0713},{"x":10.875,"a":0.0734},{"x":11.125,"a":0.0686},{"x":11.375,"a":0.0706},{"x":11.625,"a":0.0694},{"x":11.875,"a":0.0727},{"x":12.125,"a":0.0667},{"x":12.375,"a":0.0711},{"x":12.625,"a":0.0719},{"x":12.875,"a":0.0684},{"x":13.125,"a":0.0704},{"x":13.375,"a":0.0732},{"x":13.625,"a":0.0692},{"x":13.875,"a":0.0725},{"x":14.125,"a":0.0701},{"x":14.375,"a":0.0681},{"x":14.625,"a":0.0718},{"x":14.875,"a":0.0738}],
"E": [{"x":-15,"a":0.002,"c":0.0401},{"x":-14.75,"a":0.005,"c":0.0272},{"x":-14.5,"a":0.0059,"c":0.0292},{"x":-14.25,"a":0.0039,"c":0.032},{"x":-14,"a":0.0024,"c":0.0355},{"x":-13.75,"a":0.0046,"c":0.0411},{"x":-13.5,"a":0.0058,"c":0.0336},{"x":-13.25,"a":0.0032,"c":0.0347},{"x":-13,"a":0.0056,"c":0.0409},{"x":-12.75,"a":0.0021,"c":0.0318},{"x":-12.5,"a":0.0022,"c":0.0286},{"x":-12.25,"a":0.007,"c":0.0329},{"x":-12,"a":0.004,"c":0.0369},{"x":-11.75,"a":0.0032,"c":0.031},{"x":-11.5,"a":0.0057,"c":0.0356},{"x":-11.25,"a":0.0051,"c":0.0341},{"x":-11,"a":0.0039,"c":0.0281},{"x":-10.75,"a":0.0023,"c":0.0377},{"x":-10.5,"a":0.005,"c":0.0285},{"x":-10.25,"a":0.0062,"c":0.0318},{"x":-10,"a":0.003,"c":0.0364},{"x":-9.75,"a":0.0072,"c":0.0339},{"x":-9.5,"a":0.0061,"c":0.035},{"x":-9.25,"a":0.0086,"c":0.0416},{"x":-9,"a":0.0041,"c":0.0371},{"x":-8.75,"a":0.0083,"c":0.0356},{"x":-8.5,"a":0.006,"c":0.029},{"x":-8.25,"a":0.0048,"c":0.0377},{"x":-8,"a":0.007,"c":0.0348},{"x":-7.75,"a":0.0041,"c":0.0364},{"x":-7.5,"a":0.0065,"c":0.0369},{"x":-7.25,"a":0.0081,"c":0.036},{"x":-7,"a":0.0057,"c":0.0439},{"x":-6.75,"a":0.01,"c":0.0376},{"x":-6.5,"a":0.004,"c":0.0321},{"x":-6.25,"a":0.0071,"c":0.0357},{"x":-6,"a":0.0077,"c":0.0372},{"x":-5.75,"a":0.0051,"c":0.0343},{"x":-5.5,"a":0.01,"c":0.043},{"x":-5.25,"a":0.0088,"c":0.0369},{"x":-5,"a":0.0058,"c":0.0297},{"x":-4.75,"a":0.0038,"c":0.0385},{"x":-4.5,"a":0.0118,"c":0.0335},{"x":-4.25,"a":0.0066,"c":0.0361},{"x":-4,"a":0.0085,"c":0.0321},{"x":-3.75,"a":0.012,"c":0.0367},{"x":-3.5,"a":0.0074,"c":0.0287},{"x":-3.25,"a":0.0053,"c":0.0353},{"x":-3,"a":0.009,"c":0.0289},{"x":-2.75,"a":0.0121,"c":0.0419},{"x":-2.5,"a":0.0133,"c":0.048},{"x":-2.25,"a":0.0073,"c":0.0345},{"x":-2,"a":0.0095,"c":0.0361},{"x":-1.75,"a":0.0065,"c":0.0331},{"x":-1.5,"a":0.0087,"c":0.0422},{"x":-1.25,"a":0.009,"c":0.0372},{"x":-1,"a":0.0105,"c":0.0301},{"x":-0.75,"a":0.0038,"c":0.0449},{"x":-0.5,"a":0.0126,"c":0.0458},{"x":-0.25,"a":0.0125,"c":0.0471},{"x":0,"a":0.011,"c":0.039},
{"x":-14.875,"a":0.0025,"c":0.0323},{"x":-14.625,"a":0.005,"c":0.0369},{"x":-14.375,"a":0.0065,"c":0.0309},{"x":-14.125,"a":0.0036,"c":0.0335},{"x":-13.875,"a":0.0045,"c":0.035},{"x":-13.625,"a":0.0025,"c":0.0321},{"x":-13.375,"a":0.0062,"c":0.0367},{"x":-13.125,"a":0.0056,"c":0.0307},{"x":-12.875,"a":0.0045,"c":0.0348},{"x":-12.625,"a":0.0072,"c":0.0358},{"x":-12.375,"a":0.0037,"c":0.0334},{"x":-12.125,"a":0.0055,"c":0.0344},{"x":-11.875,"a":0.0041,"c":0.036},{"x":-11.625,"a":0.0065,"c":0.031},{"x":-11.375,"a":0.003,"c":0.0346},{"x":-11.125,"a":0.0057,"c":0.0376},{"x":-10.875,"a":0.0076,"c":0.0327},{"x":-10.625,"a":0.0049,"c":0.0302},{"x":-10.375,"a":0.0038,"c":0.0353},{"x":-10.125,"a":0.0065,"c":0.0368},{"x":-9.875,"a":0.0054,"c":0.0339},{"x":-9.625,"a":0.0031,"c":0.036},{"x":-9.375,"a":0.0073,"c":0.032},{"x":-9.125,"a":0.0059,"c":0.0386},{"x":-8.875,"a":0.0044,"c":0.0346},{"x":-8.625,"a":0.0078,"c":0.0327},{"x":-8.375,"a":0.0051,"c":0.0377},{"x":-8.125,"a":0.0067,"c":0.0338},{"x":-7.875,"a":0.004,"c":0.0353},{"x":-7.625,"a":0.0086,"c":0.0314},{"x":-7.375,"a":0.0056,"c":0.0369},{"x":-7.125,"a":0.0051,"c":0.036},{"x":-6.875,"a":0.0075,"c":0.0335},{"x":-6.625,"a":0.0034,"c":0.0381},{"x":-6.375,"a":0.0067,"c":0.0321},{"x":-6.125,"a":0.0074,"c":0.0352},{"x":-5.875,"a":0.0048,"c":0.0378},{"x":-5.625,"a":0.0063,"c":0.0348},{"x":-5.375,"a":0.0085,"c":0.0334},{"x":-5.125,"a":0.0058,"c":0.0369},{"x":-4.875,"a":0.0074,"c":0.039},{"x":-4.625,"a":0.0044,"c":0.0315},{"x":-4.375,"a":0.0069,"c":0.0366},{"x":-4.125,"a":0.0084,"c":0.0346},{"x":-3.875,"a":0.0055,"c":0.0382},{"x":-3.625,"a":0.0091,"c":0.0332},{"x":-3.375,"a":0.0065,"c":0.0363},{"x":-3.125,"a":0.005,"c":0.0398},{"x":-2.875,"a":0.0075,"c":0.0344},{"x":-2.625,"a":0.0084,"c":0.0359},{"x":-2.375,"a":0.0061,"c":0.038},{"x":-2.125,"a":0.0071,"c":0.0331},{"x":-1.875,"a":0.0098,"c":0.0376},{"x":-1.625,"a":0.0057,"c":0.0357},{"x":-1.375,"a":0.0081,"c":0.0392},{"x":-1.125,"a":0.0067,"c":0.0343},{"x":-0.875,"a":0.0091,"c":0.0373},{"x":-0.625,"a":0.005,"c":0.0329},{"x":-0.375,"a":0.0077,"c":0.0389},{"x":-0.125,"a":0.0087,"c":0.037},
{"x":0.25,"a":0.0367},{"x":0.5,"a":0.0339},{"x":0.75,"a":0.0395},{"x":1,"a":0.0342},{"x":1.25,"a":0.0363},{"x":1.5,"a":0.0409},{"x":1.75,"a":0.0343},{"x":2,"a":0.0387},{"x":2.25,"a":0.0344},{"x":2.5,"a":0.04},{"x":2.75,"a":0.0381},{"x":3,"a":0.0423},{"x":3.25,"a":0.0369},{"x":3.5,"a":0.0391},{"x":3.75,"a":0.0321},{"x":4,"a":0.0418},{"x":4.25,"a":0.0385},{"x":4.5,"a":0.0406},{"x":4.75,"a":0.0465},{"x":5,"a":0.0439},{"x":5.25,"a":0.045},{"x":5.5,"a":0.0377},{"x":5.75,"a":0.0423},{"x":6,"a":0.039},{"x":6.25,"a":0.0316},{"x":6.5,"a":0.0377},{"x":6.75,"a":0.0409},{"x":7,"a":0.0425},{"x":7.25,"a":0.0392},{"x":7.5,"a":0.0408},{"x":7.75,"a":0.0355},{"x":8,"a":0.0489},{"x":8.25,"a":0.0427},{"x":8.5,"a":0.0404},{"x":8.75,"a":0.0445},{"x":9,"a":0.0386},{"x":9.25,"a":0.0418},{"x":9.5,"a":0.0439},{"x":9.75,"a":0.0406},{"x":10,"a":0.0476},{"x":10.25,"a":0.0498},{"x":10.5,"a":0.04},{"x":10.75,"a":0.0436},{"x":11,"a":0.0453},{"x":11.25,"a":0.0394},{"x":11.5,"a":0.0445},{"x":11.75,"a":0.0432},{"x":12,"a":0.0423},{"x":12.25,"a":0.0506},{"x":12.5,"a":0.0416},{"x":12.75,"a":0.0442},{"x":13,"a":0.0474},{"x":13.25,"a":0.04},{"x":13.5,"a":0.0452},{"x":13.75,"a":0.0397},{"x":14,"a":0.0392},{"x":14.25,"a":0.0421},{"x":14.5,"a":0.0502},{"x":14.75,"a":0.0494},{"x":15,"a":0.041},
{"x":0.125,"a":0.0392},{"x":0.375,"a":0.0338},{"x":0.625,"a":0.0385},{"x":0.875,"a":0.0371},{"x":1.125,"a":0.0352},{"x":1.375,"a":0.0409},{"x":1.625,"a":0.0365},{"x":1.875,"a":0.0397},{"x":2.125,"a":0.0338},{"x":2.375,"a":0.0384},{"x":2.625,"a":0.0411},{"x":2.875,"a":0.0367},{"x":3.125,"a":0.0359},{"x":3.375,"a":0.04},{"x":3.625,"a":0.0421},{"x":3.875,"a":0.0378},{"x":4.125,"a":0.0389},{"x":4.375,"a":0.0351},{"x":4.625,"a":0.0412},{"x":4.875,"a":0.0398},{"x":5.125,"a":0.0375},{"x":5.375,"a":0.0426},{"x":5.625,"a":0.0408},{"x":5.875,"a":0.0369},{"x":6.125,"a":0.0445},{"x":6.375,"a":0.0397},{"x":6.625,"a":0.0388},{"x":6.875,"a":0.043},{"x":7.125,"a":0.0371},{"x":7.375,"a":0.0407},{"x":7.625,"a":0.0424},{"x":7.875,"a":0.045},{"x":8.125,"a":0.0392},{"x":8.375,"a":0.0418},{"x":8.625,"a":0.0404},{"x":8.875,"a":0.0446},{"x":9.125,"a":0.0372},{"x":9.375,"a":0.0429},{"x":9.625,"a":0.044},{"x":9.875,"a":0.0396},{"x":10.125,"a":0.0423},{"x":10.375,"a":0.0459},{"x":10.625,"a":0.041},{"x":10.875,"a":0.0452},{"x":11.125,"a":0.0423},{"x":11.375,"a":0.04},{"x":11.625,"a":0.0446},{"x":11.875,"a":0.0473},{"x":12.125,"a":0.0424},{"x":12.375,"a":0.041},{"x":12.625,"a":0.0439},{"x":12.875,"a":0.0468},{"x":13.125,"a":0.042},{"x":13.375,"a":0.0441},{"x":13.625,"a":0.0462},{"x":13.875,"a":0.0409},{"x":14.125,"a":0.0455},{"x":14.375,"a":0.0492},{"x":14.625,"a":0.0433},{"x":14.875,"a":0.0444}],
"fits": [{"p":"A","s":"Actual Outcome","x":-15,"y":0.566},{"p":"A","s":"Actual Outcome","x":0,"y":0.6},{"p":"A","s":"Counterfactual Outcome","x":-15,"y":0.818},{"p":"A","s":"Counterfactual Outcome","x":0,"y":0.85},{"p":"A","s":"Right","x":0,"y":0.863},{"p":"A","s":"Right","x":15,"y":0.895},
{"p":"B","s":"Actual Outcome","x":-15,"y":0.316},{"p":"B","s":"Actual Outcome","x":0,"y":0.414},{"p":"B","s":"Counterfactual Outcome","x":-15,"y":0.558},{"p":"B","s":"Counterfactual Outcome","x":0,"y":0.658},{"p":"B","s":"Right","x":0,"y":0.655},{"p":"B","s":"Right","x":15,"y":0.73},
{"p":"C","s":"Actual Outcome","x":-15,"y":0.199},{"p":"C","s":"Actual Outcome","x":0,"y":0.279},{"p":"C","s":"Counterfactual Outcome","x":-15,"y":0.375},{"p":"C","s":"Counterfactual Outcome","x":0,"y":0.456},{"p":"C","s":"Right","x":0,"y":0.476},{"p":"C","s":"Right","x":15,"y":0.586},
{"p":"D","s":"Actual Outcome","x":-15,"y":0.0209},{"p":"D","s":"Actual Outcome","x":0,"y":0.0295},{"p":"D","s":"Counterfactual Outcome","x":-15,"y":0.0599},{"p":"D","s":"Counterfactual Outcome","x":0,"y":0.0682},{"p":"D","s":"Right","x":0,"y":0.0692},{"p":"D","s":"Right","x":15,"y":0.0707},
{"p":"E","s":"Actual Outcome","x":-15,"y":0.0043},{"p":"E","s":"Actual Outcome","x":0,"y":0.0075},{"p":"E","s":"Counterfactual Outcome","x":-15,"y":0.0333},{"p":"E","s":"Counterfactual Outcome","x":0,"y":0.0365},{"p":"E","s":"Right","x":0,"y":0.0366},{"p":"E","s":"Right","x":15,"y":0.045}],
"thr": [{"t":0}]
},
"vconcat": [
{"hconcat": [
{"title": "Panel A: Promotions", "width": 542, "height": 331, "layer": [
{"data": {"name": "A"}, "mark": {"type": "point", "shape": "circle", "filled": false, "color": "#777777", "size": 62, "strokeWidth": 1.2, "opacity": 1},
 "encoding": {"x": {"field": "x", "type": "quantitative", "scale": {"domain": [-15.57, 15.57], "nice": false, "zero": false}, "axis": {"values": [-15,-10,-5,0,5,10,15], "labelExpr": "'' + datum.value", "title": "Distance from ESMWT Threshold"}},
  "y": {"field": "a", "type": "quantitative", "scale": {"domain": [0.537, 0.962], "nice": false, "zero": false}, "axis": {"values": [0.6,0.7,0.8,0.9], "labelExpr": "replace(format(datum.value, '.1f'), '0.', '.')", "title": "Pr (Promotion)"}}}},
{"data": {"name": "A"}, "mark": {"type": "point", "shape": "M-1,-1L1,1M-1,1L1,-1", "filled": false, "color": "#ff0000", "size": 28, "strokeWidth": 1.5, "opacity": 1},
 "encoding": {"x": {"field": "x", "type": "quantitative"}, "y": {"field": "c", "type": "quantitative"}}},
{"data": {"name": "fits"}, "transform": [{"filter": "datum.p == 'A' && datum.s != 'Right'"}], "mark": {"type": "line", "strokeWidth": 1.6},
 "encoding": {"x": {"field": "x", "type": "quantitative"}, "y": {"field": "y", "type": "quantitative"},
  "color": {"field": "s", "type": "nominal", "scale": {"domain": ["Actual Outcome", "Counterfactual Outcome"], "range": ["#0000ff", "#ff0000"]}, "legend": {"title": null, "orient": "none", "legendX": 58, "legendY": 385, "direction": "horizontal", "symbolType": "M-3,0L3,0", "symbolSize": 400, "symbolStrokeWidth": 1.8, "symbolOffset": 20, "labelOffset": 26, "labelExpr": "datum.label == 'Counterfactual Outcome' ? datum.label + '\u00a0\u00a0\u00a0' : datum.label"}},
  "strokeDash": {"field": "s", "type": "nominal", "scale": {"domain": ["Actual Outcome", "Counterfactual Outcome"], "range": [[1,0],[8,5]]}, "legend": {"title": null, "orient": "none", "legendX": 58, "legendY": 385, "direction": "horizontal", "symbolType": "M-3,0L3,0", "symbolSize": 400, "symbolStrokeWidth": 1.8, "symbolOffset": 20, "labelOffset": 26, "labelExpr": "datum.label == 'Counterfactual Outcome' ? datum.label + '\u00a0\u00a0\u00a0' : datum.label"}}}},
{"data": {"name": "fits"}, "transform": [{"filter": "datum.p == 'A' && datum.s == 'Right'"}], "mark": {"type": "line", "color": "#008000", "strokeWidth": 1.3},
 "encoding": {"x": {"field": "x", "type": "quantitative"}, "y": {"field": "y", "type": "quantitative"}}},
{"data": {"name": "thr"}, "mark": {"type": "rule", "color": "#ff0000", "strokeWidth": 1.3}, "encoding": {"x": {"field": "t", "type": "quantitative"}}}
]},
{"title": "Panel B: Plant Manager", "width": 542, "height": 331, "layer": [
{"data": {"name": "B"}, "mark": {"type": "point", "shape": "circle", "filled": false, "color": "#777777", "size": 62, "strokeWidth": 1.2, "opacity": 1},
 "encoding": {"x": {"field": "x", "type": "quantitative", "scale": {"domain": [-15.57, 15.57], "nice": false, "zero": false}, "axis": {"values": [-15,-10,-5,0,5,10,15], "labelExpr": "'' + datum.value", "title": "Distance from ESMWT Threshold"}},
  "y": {"field": "a", "type": "quantitative", "scale": {"domain": [0.268, 0.815], "nice": false, "zero": false}, "axis": {"values": [0.4,0.5,0.6,0.7,0.8], "labelExpr": "replace(format(datum.value, '.1f'), '0.', '.')", "title": "Pr (Plant Manager)"}}}},
{"data": {"name": "B"}, "mark": {"type": "point", "shape": "M-1,-1L1,1M-1,1L1,-1", "filled": false, "color": "#ff0000", "size": 28, "strokeWidth": 1.5, "opacity": 1},
 "encoding": {"x": {"field": "x", "type": "quantitative"}, "y": {"field": "c", "type": "quantitative"}}},
{"data": {"name": "fits"}, "transform": [{"filter": "datum.p == 'B' && datum.s != 'Right'"}], "mark": {"type": "line", "strokeWidth": 1.6},
 "encoding": {"x": {"field": "x", "type": "quantitative"}, "y": {"field": "y", "type": "quantitative"},
  "color": {"field": "s", "type": "nominal", "scale": {"domain": ["Actual Outcome", "Counterfactual Outcome"], "range": ["#0000ff", "#ff0000"]}, "legend": {"title": null, "orient": "none", "legendX": 58, "legendY": 385, "direction": "horizontal", "symbolType": "M-3,0L3,0", "symbolSize": 400, "symbolStrokeWidth": 1.8, "symbolOffset": 20, "labelOffset": 26, "labelExpr": "datum.label == 'Counterfactual Outcome' ? datum.label + '\u00a0\u00a0\u00a0' : datum.label"}},
  "strokeDash": {"field": "s", "type": "nominal", "scale": {"domain": ["Actual Outcome", "Counterfactual Outcome"], "range": [[1,0],[8,5]]}, "legend": {"title": null, "orient": "none", "legendX": 58, "legendY": 385, "direction": "horizontal", "symbolType": "M-3,0L3,0", "symbolSize": 400, "symbolStrokeWidth": 1.8, "symbolOffset": 20, "labelOffset": 26, "labelExpr": "datum.label == 'Counterfactual Outcome' ? datum.label + '\u00a0\u00a0\u00a0' : datum.label"}}}},
{"data": {"name": "fits"}, "transform": [{"filter": "datum.p == 'B' && datum.s == 'Right'"}], "mark": {"type": "line", "color": "#008000", "strokeWidth": 1.3},
 "encoding": {"x": {"field": "x", "type": "quantitative"}, "y": {"field": "y", "type": "quantitative"}}},
{"data": {"name": "thr"}, "mark": {"type": "rule", "color": "#ff0000", "strokeWidth": 1.3}, "encoding": {"x": {"field": "t", "type": "quantitative"}}}
]},
{"title": "Panel C: General Manager", "width": 535, "height": 331, "layer": [
{"data": {"name": "C"}, "mark": {"type": "point", "shape": "circle", "filled": false, "color": "#777777", "size": 62, "strokeWidth": 1.2, "opacity": 1},
 "encoding": {"x": {"field": "x", "type": "quantitative", "scale": {"domain": [-15.57, 15.57], "nice": false, "zero": false}, "axis": {"values": [-15,-10,-5,0,5,10,15], "labelExpr": "'' + datum.value", "title": "Distance from ESMWT Threshold"}},
  "y": {"field": "a", "type": "quantitative", "scale": {"domain": [0.136, 0.664], "nice": false, "zero": false}, "axis": {"values": [0.3,0.4,0.5,0.6], "labelExpr": "replace(format(datum.value, '.1f'), '0.', '.')", "title": "Pr (General Manager)"}}}},
{"data": {"name": "C"}, "mark": {"type": "point", "shape": "M-1,-1L1,1M-1,1L1,-1", "filled": false, "color": "#ff0000", "size": 28, "strokeWidth": 1.5, "opacity": 1},
 "encoding": {"x": {"field": "x", "type": "quantitative"}, "y": {"field": "c", "type": "quantitative"}}},
{"data": {"name": "fits"}, "transform": [{"filter": "datum.p == 'C' && datum.s != 'Right'"}], "mark": {"type": "line", "strokeWidth": 1.6},
 "encoding": {"x": {"field": "x", "type": "quantitative"}, "y": {"field": "y", "type": "quantitative"},
  "color": {"field": "s", "type": "nominal", "scale": {"domain": ["Actual Outcome", "Counterfactual Outcome"], "range": ["#0000ff", "#ff0000"]}, "legend": {"title": null, "orient": "none", "legendX": 58, "legendY": 385, "direction": "horizontal", "symbolType": "M-3,0L3,0", "symbolSize": 400, "symbolStrokeWidth": 1.8, "symbolOffset": 20, "labelOffset": 26, "labelExpr": "datum.label == 'Counterfactual Outcome' ? datum.label + '\u00a0\u00a0\u00a0' : datum.label"}},
  "strokeDash": {"field": "s", "type": "nominal", "scale": {"domain": ["Actual Outcome", "Counterfactual Outcome"], "range": [[1,0],[8,5]]}, "legend": {"title": null, "orient": "none", "legendX": 58, "legendY": 385, "direction": "horizontal", "symbolType": "M-3,0L3,0", "symbolSize": 400, "symbolStrokeWidth": 1.8, "symbolOffset": 20, "labelOffset": 26, "labelExpr": "datum.label == 'Counterfactual Outcome' ? datum.label + '\u00a0\u00a0\u00a0' : datum.label"}}}},
{"data": {"name": "fits"}, "transform": [{"filter": "datum.p == 'C' && datum.s == 'Right'"}], "mark": {"type": "line", "color": "#008000", "strokeWidth": 1.3},
 "encoding": {"x": {"field": "x", "type": "quantitative"}, "y": {"field": "y", "type": "quantitative"}}},
{"data": {"name": "thr"}, "mark": {"type": "rule", "color": "#ff0000", "strokeWidth": 1.3}, "encoding": {"x": {"field": "t", "type": "quantitative"}}}
]}
], "spacing": 68, "resolve": {"scale": {"color": "independent", "strokeDash": "independent"}, "legend": {"color": "independent", "strokeDash": "independent"}}},
{"hconcat": [
{"width": 164, "height": 10, "data": {"values": []}, "mark": {"type": "point", "opacity": 0}, "encoding": {}},
{"title": "Panel D: Top Executive", "width": 542, "height": 333, "layer": [
{"data": {"name": "D"}, "mark": {"type": "point", "shape": "circle", "filled": false, "color": "#777777", "size": 62, "strokeWidth": 1.2, "opacity": 1},
 "encoding": {"x": {"field": "x", "type": "quantitative", "scale": {"domain": [-15.57, 15.57], "nice": false, "zero": false}, "axis": {"values": [-15,-10,-5,0,5,10,15], "labelExpr": "'' + datum.value", "title": "Distance from ESMWT Threshold"}},
  "y": {"field": "a", "type": "quantitative", "scale": {"domain": [0.015, 0.082], "nice": false, "zero": false}, "axis": {"values": [0.02,0.03,0.04,0.05,0.06,0.07,0.08], "labelExpr": "replace(format(datum.value, '.2f'), '0.', '.')", "title": "Pr (Top Executive)"}}}},
{"data": {"name": "D"}, "mark": {"type": "point", "shape": "M-1,-1L1,1M-1,1L1,-1", "filled": false, "color": "#ff0000", "size": 28, "strokeWidth": 1.5, "opacity": 1},
 "encoding": {"x": {"field": "x", "type": "quantitative"}, "y": {"field": "c", "type": "quantitative"}}},
{"data": {"name": "fits"}, "transform": [{"filter": "datum.p == 'D' && datum.s != 'Right'"}], "mark": {"type": "line", "strokeWidth": 1.6},
 "encoding": {"x": {"field": "x", "type": "quantitative"}, "y": {"field": "y", "type": "quantitative"},
  "color": {"field": "s", "type": "nominal", "scale": {"domain": ["Actual Outcome", "Counterfactual Outcome"], "range": ["#0000ff", "#ff0000"]}, "legend": {"title": null, "orient": "none", "legendX": 57, "legendY": 387, "direction": "horizontal", "symbolType": "M-3,0L3,0", "symbolSize": 400, "symbolStrokeWidth": 1.8, "symbolOffset": 20, "labelOffset": 26, "labelExpr": "datum.label == 'Counterfactual Outcome' ? datum.label + '\u00a0\u00a0\u00a0' : datum.label"}},
  "strokeDash": {"field": "s", "type": "nominal", "scale": {"domain": ["Actual Outcome", "Counterfactual Outcome"], "range": [[1,0],[8,5]]}, "legend": {"title": null, "orient": "none", "legendX": 57, "legendY": 387, "direction": "horizontal", "symbolType": "M-3,0L3,0", "symbolSize": 400, "symbolStrokeWidth": 1.8, "symbolOffset": 20, "labelOffset": 26, "labelExpr": "datum.label == 'Counterfactual Outcome' ? datum.label + '\u00a0\u00a0\u00a0' : datum.label"}}}},
{"data": {"name": "fits"}, "transform": [{"filter": "datum.p == 'D' && datum.s == 'Right'"}], "mark": {"type": "line", "color": "#008000", "strokeWidth": 1.3},
 "encoding": {"x": {"field": "x", "type": "quantitative"}, "y": {"field": "y", "type": "quantitative"}}},
{"data": {"name": "thr"}, "mark": {"type": "rule", "color": "#ff3030", "strokeWidth": 2}, "encoding": {"x": {"field": "t", "type": "quantitative"}}}
]},
{"title": "Panel E: CEO", "width": 543, "height": 333, "layer": [
{"data": {"name": "E"}, "mark": {"type": "point", "shape": "circle", "filled": false, "color": "#777777", "size": 62, "strokeWidth": 1.2, "opacity": 1},
 "encoding": {"x": {"field": "x", "type": "quantitative", "scale": {"domain": [-15.57, 15.57], "nice": false, "zero": false}, "axis": {"values": [-15,-10,-5,0,5,10,15], "labelExpr": "'' + datum.value", "title": "Distance from ESMWT Threshold"}},
  "y": {"field": "a", "type": "quantitative", "scale": {"domain": [-0.0016, 0.0523], "nice": false, "zero": false}, "axis": {"values": [0,0.01,0.02,0.03,0.04,0.05], "labelExpr": "datum.value == 0 ? '0' : replace(format(datum.value, '.2f'), '0.', '.')", "title": "Pr (CEO)"}}}},
{"data": {"name": "E"}, "mark": {"type": "point", "shape": "M-1,-1L1,1M-1,1L1,-1", "filled": false, "color": "#ff0000", "size": 28, "strokeWidth": 1.5, "opacity": 1},
 "encoding": {"x": {"field": "x", "type": "quantitative"}, "y": {"field": "c", "type": "quantitative"}}},
{"data": {"name": "fits"}, "transform": [{"filter": "datum.p == 'E' && datum.s != 'Right'"}], "mark": {"type": "line", "strokeWidth": 1.6},
 "encoding": {"x": {"field": "x", "type": "quantitative"}, "y": {"field": "y", "type": "quantitative"},
  "color": {"field": "s", "type": "nominal", "scale": {"domain": ["Actual Outcome", "Counterfactual Outcome"], "range": ["#0000ff", "#ff0000"]}, "legend": {"title": null, "orient": "none", "legendX": 58, "legendY": 387, "direction": "horizontal", "symbolType": "M-3,0L3,0", "symbolSize": 400, "symbolStrokeWidth": 1.8, "symbolOffset": 20, "labelOffset": 26, "labelExpr": "datum.label == 'Counterfactual Outcome' ? datum.label + '\u00a0\u00a0\u00a0' : datum.label"}},
  "strokeDash": {"field": "s", "type": "nominal", "scale": {"domain": ["Actual Outcome", "Counterfactual Outcome"], "range": [[1,0],[8,5]]}, "legend": {"title": null, "orient": "none", "legendX": 58, "legendY": 387, "direction": "horizontal", "symbolType": "M-3,0L3,0", "symbolSize": 400, "symbolStrokeWidth": 1.8, "symbolOffset": 20, "labelOffset": 26, "labelExpr": "datum.label == 'Counterfactual Outcome' ? datum.label + '\u00a0\u00a0\u00a0' : datum.label"}}}},
{"data": {"name": "fits"}, "transform": [{"filter": "datum.p == 'E' && datum.s == 'Right'"}], "mark": {"type": "line", "color": "#008000", "strokeWidth": 1.3},
 "encoding": {"x": {"field": "x", "type": "quantitative"}, "y": {"field": "y", "type": "quantitative"}}},
{"data": {"name": "thr"}, "mark": {"type": "rule", "color": "#ff3030", "strokeWidth": 2}, "encoding": {"x": {"field": "t", "type": "quantitative"}}}
]}
], "spacing": 68, "resolve": {"scale": {"color": "independent", "strokeDash": "independent"}, "legend": {"color": "independent", "strokeDash": "independent"}}}
],
"spacing": 46,
"resolve": {"scale": {"color": "independent", "strokeDash": "independent"}, "legend": {"color": "independent", "strokeDash": "independent"}},
"config": {
 "view": {"stroke": null},
 "axis": {"domainColor": "#555555", "tickColor": "#555555", "tickSize": 6, "domainWidth": 1.2, "tickWidth": 1.2, "labelFont": "Liberation Sans", "labelFontSize": 15.5, "labelColor": "#000000", "titleFont": "Liberation Sans", "titleFontSize": 18, "titleFontWeight": "normal", "titleColor": "#000000", "gridColor": "#e3ecf0", "gridWidth": 1.2, "labelPadding": 3, "titlePadding": 3},
 "axisY": {"labelAngle": -90, "labelAlign": "center", "labelBaseline": "bottom", "grid": true},
 "axisX": {"grid": false, "labelPadding": 4, "titlePadding": 4},
 "title": {"font": "Liberation Serif", "fontSize": 31, "fontWeight": "normal", "color": "#000000", "offset": 19, "anchor": "middle", "frame": "bounds"},
 "legend": {"padding": 5, "strokeColor": "#444444", "fillColor": "#ffffff", "labelFont": "Liberation Sans", "labelFontSize": 13.5, "labelColor": "#000000", "columnPadding": 23, "labelLimit": 300}
}
}
